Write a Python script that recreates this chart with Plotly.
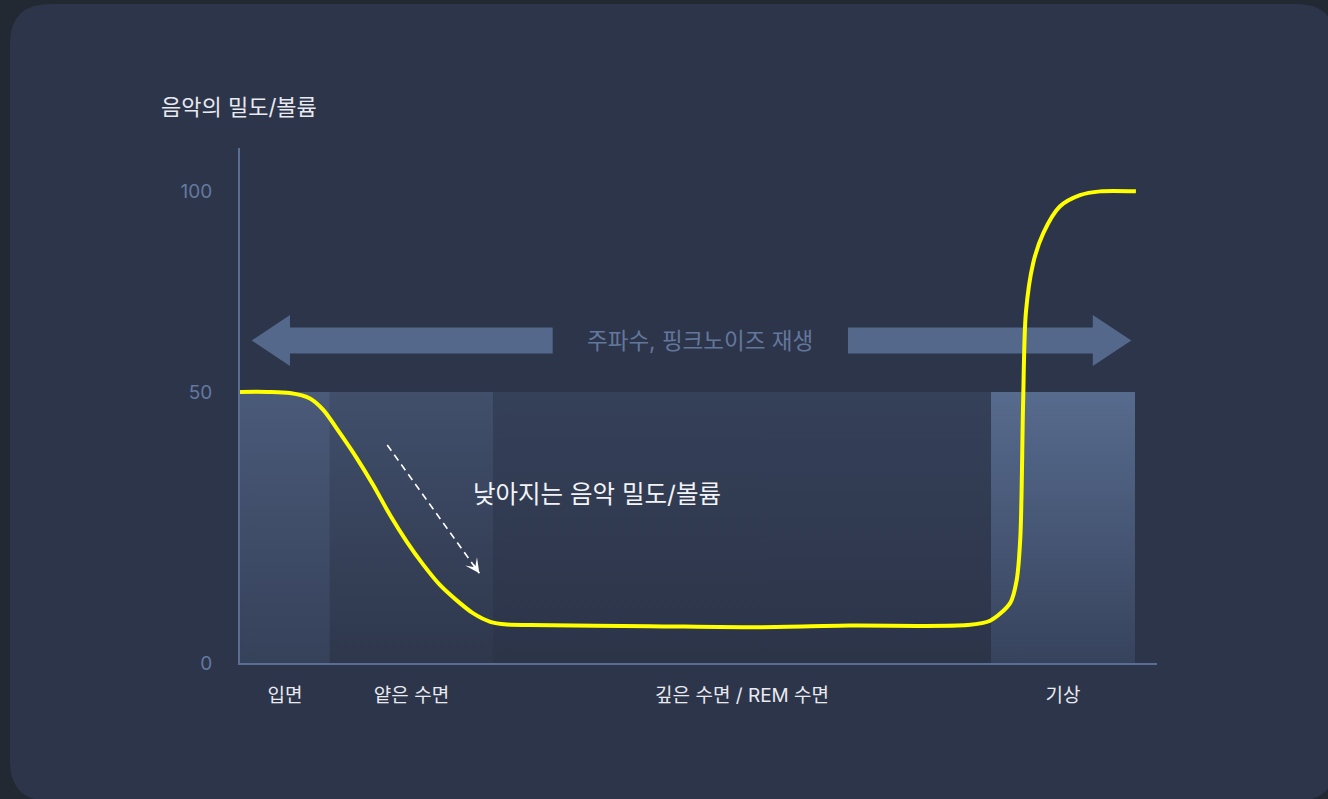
import plotly.graph_objects as go

# ---------------- data ----------------
stage_names = ['입면', '얕은 수면', '깊은 수면 / REM 수면', '기상']
stage_start = [0.0, 9.8, 27.6, 81.9]
stage_end = [9.8, 27.6, 81.9, 97.6]
stage_level = [50, 50, 50, 50]
stage_top_colors = ['#4a5a79', '#414f6b', '#354059', '#576b8e']
stage_bottom_colors = ['#36415a', '#2e374c', '#2c3448', '#37435d']

curve_t = [0, 3.0, 5.45, 7.63, 9.08, 10.9, 12.73, 14.54, 16.36, 18.18, 20.0, 21.8,
           23.6, 25.4, 27.3, 29.1, 31.6, 44.7, 56.7, 66.5, 79.3, 81.8, 84.0, 84.7,
           85.1, 85.4, 85.7, 86.5, 87.6, 89.4, 91.6, 93.8, 97.7]
curve_v = [50.0, 50.0, 49.8, 48.8, 46.7, 42.4, 37.8, 32.8, 27.3, 22.4, 18.1, 14.4,
           11.6, 9.2, 7.6, 7.1, 7.0, 6.8, 6.6, 6.9, 7.0, 7.8, 11.1, 15.3,
           23.3, 48.0, 64.6, 73.8, 79.3, 84.2, 86.3, 87.0, 87.0]

ytick_vals = [0, 50, 87]
ytick_text = ['0', '50', '100']

trend_t = [16.06, 26.1]
trend_v = [40.2, 16.55]

band_y = 59.5
band_left = [1.28, 5.45, 34.1]    # tip, head base, shaft end
band_right = [66.3, 93.0, 97.2]   # shaft start, head base, tip
band_label = '주파수, 핑크노이즈 재생'
trend_label = '낮아지는 음악 밀도/볼륨'
y_title = '음악의 밀도/볼륨'

# ---------------- style ----------------
FONT = 'Inter, "Noto Sans CJK KR", sans-serif'
OUTER = '#222933'
CARD = '#2d354a'
AXIS = '#5a6d94'
ARROW = '#53688a'

W, H = 1328, 799
L, R, T, B = 240, 1157, 148, 663
ymax = 95.0

fig = go.Figure()

# stage blocks with vertical gradients
for s0, s1, lv, ct, cb in zip(stage_start, stage_end, stage_level, stage_top_colors, stage_bottom_colors):
    fig.add_trace(go.Scatter(
        x=[s0, s1, s1, s0, s0], y=[0, 0, lv, lv, 0],
        mode='lines', line=dict(width=0), fill='toself',
        fillgradient=dict(type='vertical', colorscale=[[0, cb], [1, ct]]),
        hoverinfo='skip', showlegend=False))

# dashed trend arrow
fig.add_trace(go.Scatter(x=trend_t, y=trend_v, mode='lines',
                         line=dict(color='white', width=1.6, dash='7px,5px'),
                         hoverinfo='skip', showlegend=False))

# main curve
fig.add_trace(go.Scatter(x=curve_t, y=curve_v, mode='lines',
                         line=dict(color='#ffff00', width=4, shape='spline', smoothing=0.8),
                         hoverinfo='skip', showlegend=False))

# ---- card background (pixel -> paper helper) ----
def px(xp):
    return (xp - L) / (R - L)

def py(yp):
    return (B - yp) / (B - T)

cx0, cx1, cy0, cy1, rad = 10, 1336, 4, 801, 40
card_path = (
    f"M {px(cx0 + rad)},{py(cy0)} L {px(cx1 - rad)},{py(cy0)} "
    f"Q {px(cx1)},{py(cy0)} {px(cx1)},{py(cy0 + rad)} "
    f"L {px(cx1)},{py(cy1 - rad)} Q {px(cx1)},{py(cy1)} {px(cx1 - rad)},{py(cy1)} "
    f"L {px(cx0 + rad)},{py(cy1)} Q {px(cx0)},{py(cy1)} {px(cx0)},{py(cy1 - rad)} "
    f"L {px(cx0)},{py(cy0 + rad)} Q {px(cx0)},{py(cy0)} {px(cx0 + rad)},{py(cy0)} Z"
)
shapes = [dict(type='path', xref='paper', yref='paper', path=card_path,
               fillcolor=CARD, line=dict(width=0), layer='below')]

sh, hh = 2.4, 4.7
lt, lb, le = band_left
left_path = (f"M {lt},{band_y} L {lb},{band_y + hh} L {lb},{band_y + sh} L {le},{band_y + sh} "
             f"L {le},{band_y - sh} L {lb},{band_y - sh} L {lb},{band_y - hh} Z")
rs, rb, rt = band_right
right_path = (f"M {rs},{band_y + sh} L {rb},{band_y + sh} L {rb},{band_y + hh} L {rt},{band_y} "
              f"L {rb},{band_y - hh} L {rb},{band_y - sh} L {rs},{band_y - sh} Z")
for p in (left_path, right_path):
    shapes.append(dict(type='path', xref='x', yref='y', path=p,
                       fillcolor=ARROW, line=dict(width=0), layer='below'))

annotations = [
    dict(text=y_title, xref='paper', yref='paper', x=px(159), y=py(107),
         xanchor='left', yanchor='middle', showarrow=False,
         font=dict(family=FONT, size=22, color='#e8eaf0')),
    dict(text=band_label, xref='x', yref='y', x=(band_left[2] + band_right[0]) / 2, y=band_y,
         xanchor='center', yanchor='middle', showarrow=False,
         font=dict(family=FONT, size=22.5, color='#63779d')),
    dict(text=trend_label, xref='x', yref='y', x=38.9, y=31.2,
         xanchor='center', yanchor='middle', showarrow=False,
         font=dict(family=FONT, size=24.5, color='#f2f3f6')),
    dict(text='', xref='x', yref='y', x=trend_t[1], y=trend_v[1],
         ax=-7, ay=-10, showarrow=True, arrowhead=3, arrowsize=1.5,
         arrowwidth=1.6, arrowcolor='white'),
]

stage_centers = [(a + b) / 2 for a, b in zip(stage_start, stage_end)]

fig.update_layout(
    width=W, height=H,
    margin=dict(l=L, r=W - R, t=T, b=H - B),
    paper_bgcolor=OUTER, plot_bgcolor='rgba(0,0,0,0)',
    showlegend=False,
    shapes=shapes, annotations=annotations,
    font=dict(family=FONT),
    xaxis=dict(range=[0, 100], showgrid=False, zeroline=False,
               showline=True, linecolor=AXIS, linewidth=2,
               tickmode='array', tickvals=stage_centers, ticktext=stage_names,
               ticks='', ticklabelstandoff=14,
               tickfont=dict(family=FONT, size=19, color='#e8eaf0'), fixedrange=True),
    yaxis=dict(range=[0, ymax], showgrid=False, zeroline=False,
               showline=True, linecolor=AXIS, linewidth=2,
               tickmode='array', tickvals=ytick_vals, ticktext=ytick_text,
               ticks='', ticklabelstandoff=22,
               tickfont=dict(family=FONT, size=19, color='#6479a0'), fixedrange=True),
)

fig.write_html('out.html', config={'displayModeBar': False},
               post_script="document.body.style.margin='0';"
                           "document.body.style.background='#222933';"
                           "document.body.style.overflow='hidden';")
